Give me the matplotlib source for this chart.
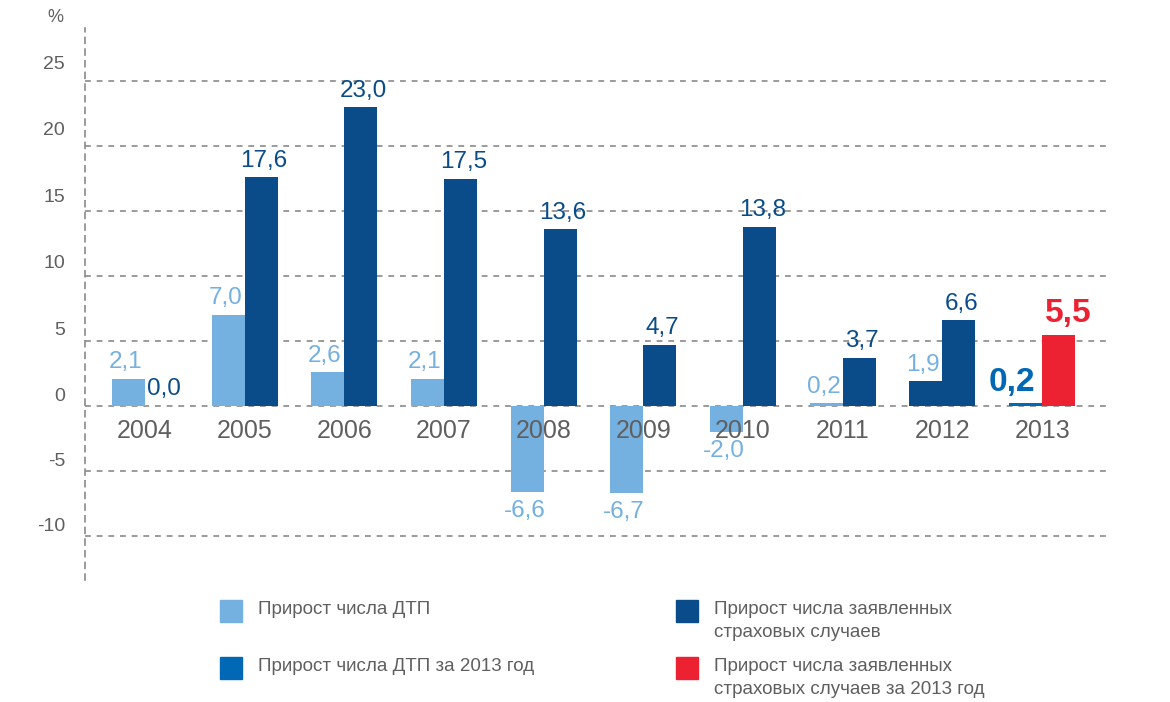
import matplotlib
matplotlib.use("Agg")
import matplotlib.pyplot as plt
from matplotlib.patches import Rectangle

years = ["2004", "2005", "2006", "2007", "2008", "2009", "2010", "2011", "2012", "2013"]
dtp_growth = [2.1, 7.0, 2.6, 2.1, -6.6, -6.7, -2.0, 0.2, 1.9, 0.2]
claims_growth = [0.0, 17.6, 23.0, 17.5, 13.6, 4.7, 13.8, 3.7, 6.6, 5.5]
y_ticks = [-10, -5, 0, 5, 10, 15, 20, 25]
legend_labels = [
    "Прирост числа ДТП",
    "Прирост числа заявленных\nстраховых случаев",
    "Прирост числа ДТП за 2013 год",
    "Прирост числа заявленных\nстраховых случаев за 2013 год",
]

LIGHT = "#74b0e0"
DARK = "#0a4c8a"
MID = "#0068b4"
RED = "#ec2131"
GRAY = "#5f5f5f"
GRID = "#8a8a8a"

plt.rcParams["font.family"] = ["Liberation Sans", "DejaVu Sans"]

W, H = 1170, 702
fig = plt.figure(figsize=(W / 100, H / 100), dpi=100)
# axes box in pixels: x 85..1106, y 28..580
ax = fig.add_axes([85 / W, 1 - 580 / H, (1106 - 85) / W, (580 - 28) / H])

n = len(years)
xs = list(range(n))
bw = 0.331

dtp_colors = [LIGHT] * n
dtp_colors[8] = DARK      # 2012 drawn dark in the original
dtp_colors[-1] = MID
claim_colors = [DARK] * n
claim_colors[-1] = RED

ax.bar([x - bw / 2 for x in xs], dtp_growth, width=bw, color=dtp_colors, zorder=3)
ax.bar([x + bw / 2 for x in xs], claims_growth, width=bw, color=claim_colors, zorder=3)

ax.set_xlim(-0.60, 9.64)
ax.set_ylim(-13.4, 29.1)

for v in y_ticks:
    ax.axhline(v, color=GRID, lw=1.2, ls=(0, (3.5, 3.5)), zorder=1)
    ax.text(-0.80, v + 0.7 + 0.024 * max(v, 0), str(v), ha="right", va="center",
            fontsize=14, color=GRAY, clip_on=False)

ax.set_xticks([])
ax.set_yticks([])
for s in ["top", "right", "bottom"]:
    ax.spines[s].set_visible(False)
ax.spines["left"].set_linestyle((0, (3.5, 3.5)))
ax.spines["left"].set_color(GRID)
ax.spines["left"].set_linewidth(1.2)

ax.text(-0.90, 29.9, "%", ha="center", va="center", fontsize=13, color=GRAY, clip_on=False)

for x, yr in zip(xs, years):
    ax.text(x, -1.9, yr, ha="center", va="center", fontsize=18, color=GRAY, zorder=4)


def label(x, v, text, color, size=17.5, weight="normal", dx=0):
    off = 4 if v >= 0 else -6
    ax.annotate(text, (x, v), xytext=(dx, off), textcoords="offset points",
                ha="center", va="bottom" if v >= 0 else "top",
                fontsize=size, color=color, fontweight=weight, zorder=5)


def fmt(v):
    return f"{v:.1f}".replace(".", ",")


for i in range(n - 1):
    label(xs[i] - bw / 2, dtp_growth[i], fmt(dtp_growth[i]), LIGHT, dx=-2)
    label(xs[i] + bw / 2, claims_growth[i], fmt(claims_growth[i]), DARK, dx=2)
label(xs[-1] - bw / 2, dtp_growth[-1], fmt(dtp_growth[-1]), MID, size=24, weight="bold", dx=-10)
label(xs[-1] + bw / 2, claims_growth[-1], fmt(claims_growth[-1]), RED, size=24, weight="bold", dx=7)

# legend
leg_colors = [LIGHT, DARK, MID, RED]
leg_pos = [(220, 600), (676, 600), (220, 657), (676, 657)]
for (px, py), c, t in zip(leg_pos, leg_colors, legend_labels):
    fig.patches.append(Rectangle((px / W, 1 - (py + 22) / H), 22 / W, 22 / H,
                                 transform=fig.transFigure, color=c))
    fig.text((px + 38) / W, 1 - (py + 1) / H, t, ha="left", va="top",
             fontsize=13.5, color=GRAY, linespacing=1.45)

fig.savefig("out.png", dpi=100, facecolor="white")
